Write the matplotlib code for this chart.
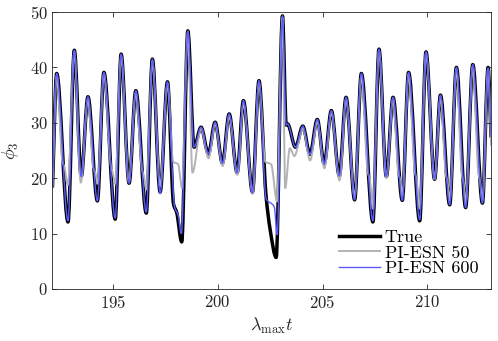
import numpy as np
import matplotlib
matplotlib.use('Agg')
import matplotlib.pyplot as plt
from matplotlib.path import Path
from matplotlib.patches import PathPatch
from matplotlib.lines import Line2D

# Valeurs (extrema et epaulements de chaque courbe)
t_true = [192.13, 192.33, 192.87, 193.17, 193.50, 193.82, 194.27, 194.58, 195.12, 195.40,
          195.78, 196.10, 196.60, 196.89, 197.26, 197.61, 197.90, 198.05, 198.29, 198.58,
          198.88, 199.21, 199.56, 199.88, 200.23, 200.55, 200.93, 201.23, 201.66, 201.97,
          202.31, 202.50, 202.79, 203.09, 203.27, 203.33, 203.71, 204.06, 204.40, 204.75,
          205.08, 205.42, 205.80, 206.12, 206.53, 206.85, 207.40, 207.69, 208.04, 208.36,
          208.80, 209.10, 209.63, 209.93, 210.34, 210.62, 211.06, 211.38, 211.82, 212.16,
          212.62, 212.89, 213.03]
phi_true = [18.5, 38.9, 12.1, 43.1, 20.3, 34.7, 15.9, 39.1, 12.6, 42.4,
            19.1, 35.8, 13.7, 41.5, 17.5, 37.4, 15.3, 13.8, 8.5, 46.6,
            25.6, 29.2, 24.4, 30.1, 22.7, 31.6, 21.0, 34.0, 17.5, 37.6,
            16.7, 10.8, 5.7, 49.3, 29.6, 29.8, 25.6, 29.4, 24.3, 30.6,
            22.6, 32.2, 20.4, 34.6, 16.1, 38.9, 12.1, 43.3, 20.3, 34.6,
            16.0, 39.1, 12.3, 42.8, 19.8, 35.0, 15.2, 40.0, 14.7, 40.5,
            15.5, 40.0, 27.5]

t_esn50 = [192.13, 192.33, 192.60, 192.70, 192.86, 193.17, 193.48, 193.82, 194.08, 194.17,
           194.28, 194.58, 194.92, 195.00, 195.12, 195.40, 195.77, 196.10, 196.40, 196.48,
           196.60, 196.89, 197.26, 197.61, 197.88, 198.12, 198.30, 198.58, 198.80, 199.21,
           199.57, 199.88, 200.24, 200.55, 200.94, 201.23, 201.67, 201.97, 202.27, 202.55,
           202.83, 203.09, 203.22, 203.44, 203.66, 204.06, 204.41, 204.75, 205.09, 205.42,
           205.81, 206.12, 206.53, 206.85, 207.15, 207.25, 207.40, 207.69, 208.04, 208.36,
           208.62, 208.70, 208.80, 209.10, 209.40, 209.48, 209.63, 209.93, 210.34, 210.62,
           210.88, 210.95, 211.06, 211.38, 211.64, 211.72, 211.82, 212.16, 212.43, 212.50,
           212.62, 212.89, 213.03]
phi_esn50 = [18.3, 38.5, 23.0, 22.0, 18.8, 42.8, 19.2, 34.3, 21.8, 21.0,
             19.0, 38.8, 22.0, 21.0, 19.0, 42.0, 19.3, 35.4, 21.5, 20.5,
             18.0, 41.0, 18.5, 37.0, 23.0, 22.5, 18.2, 46.3, 21.0, 29.0,
             23.6, 29.8, 22.2, 31.2, 20.6, 33.5, 17.2, 37.2, 23.0, 22.5,
             15.8, 49.0, 18.2, 25.4, 24.0, 29.0, 23.2, 30.2, 21.8, 31.9,
             19.6, 34.2, 16.6, 38.5, 21.2, 19.8, 14.5, 43.0, 20.0, 34.3,
             20.8, 19.8, 16.8, 38.8, 21.0, 19.8, 14.5, 42.5, 19.8, 34.7,
             20.5, 19.5, 16.0, 39.7, 20.5, 19.3, 15.5, 40.2, 20.8, 19.6,
             16.0, 39.7, 26.0]

t_esn600 = [192.13, 192.33, 192.87, 193.17, 193.50, 193.82, 194.27, 194.58, 195.12, 195.40,
            195.78, 196.10, 196.60, 196.89, 197.26, 197.61, 197.95, 198.12, 198.27, 198.58,
            198.88, 199.21, 199.56, 199.88, 200.23, 200.55, 200.93, 201.23, 201.66, 201.97,
            202.31, 202.70, 202.84, 203.09, 203.27, 203.33, 203.71, 204.06, 204.40, 204.75,
            205.08, 205.42, 205.80, 206.12, 206.53, 206.85, 207.40, 207.69, 208.04, 208.36,
            208.80, 209.10, 209.63, 209.93, 210.34, 210.62, 211.06, 211.38, 211.82, 212.16,
            212.62, 212.89, 213.03]
phi_esn600 = [18.5, 38.9, 12.3, 43.1, 20.3, 34.7, 15.9, 39.1, 12.8, 42.4,
              19.1, 35.8, 13.9, 41.5, 17.2, 37.4, 14.8, 13.3, 10.0, 46.6,
              25.6, 29.2, 24.4, 30.1, 22.7, 31.6, 21.0, 34.0, 17.3, 37.6,
              16.3, 14.8, 9.8, 49.3, 29.6, 29.8, 25.6, 29.4, 24.3, 30.6,
              22.6, 32.2, 20.4, 34.6, 16.1, 38.9, 12.3, 43.3, 20.3, 34.6,
              16.0, 39.1, 12.5, 42.8, 19.8, 35.0, 15.2, 40.0, 14.7, 40.5,
              15.5, 40.0, 27.5]

labels = ['True', 'PI-ESN 50', 'PI-ESN 600']


def smooth_path(t, y):
    # Trace lisse (Hermite monotone) dessine comme courbes de Bezier par matplotlib
    t = np.asarray(t, dtype=float)
    y = np.asarray(y, dtype=float)
    h = np.diff(t)
    d = np.diff(y) / h
    m = np.zeros_like(y)
    for i in range(1, len(y) - 1):
        if d[i - 1] * d[i] > 0:
            w1 = 2 * h[i] + h[i - 1]
            w2 = h[i] + 2 * h[i - 1]
            m[i] = (w1 + w2) / (w1 / d[i - 1] + w2 / d[i])
    m[0] = d[0]
    m[-1] = d[-1]
    verts = [(t[0], y[0])]
    codes = [Path.MOVETO]
    for i in range(len(h)):
        verts.append((t[i] + h[i] / 3, y[i] + m[i] * h[i] / 3))
        verts.append((t[i + 1] - h[i] / 3, y[i + 1] - m[i + 1] * h[i] / 3))
        verts.append((t[i + 1], y[i + 1]))
        codes += [Path.CURVE4] * 3
    return Path(verts, codes)


plt.rcParams['font.family'] = 'serif'
plt.rcParams['font.serif'] = ['cmr10']
plt.rcParams['mathtext.fontset'] = 'cm'
plt.rcParams['axes.formatter.use_mathtext'] = True

fig = plt.figure(figsize=(4.98, 3.41), dpi=100)
ax = fig.add_axes([0.1054, 0.1525, 0.8806, 0.8123])

styles = [
    dict(color='black', lw=2.5),
    dict(color='#b3b3b3', lw=1.4),
    dict(color='#5a5aff', lw=1.0),
]
series = [(t_true, phi_true), (t_esn50, phi_esn50), (t_esn600, phi_esn600)]

for (t, phi), st in zip(series, styles):
    patch = PathPatch(smooth_path(t, phi), fill=False, edgecolor=st['color'],
                      lw=st['lw'], joinstyle='round', capstyle='round')
    ax.add_patch(patch)

ax.set_xlim(t_true[0], t_true[-1])
ax.set_ylim(0, 50)
ax.set_xticks([195, 200, 205, 210])
ax.set_yticks([0, 10, 20, 30, 40, 50])
ax.tick_params(direction='in', top=True, right=True, length=3.5, width=0.6,
               labelsize=12, colors='#262626')
for s in ax.spines.values():
    s.set_color('#262626')
    s.set_linewidth(0.6)

ax.set_xlabel(r'$\lambda_{\max}t$', fontsize=13, color='#262626')
ax.set_ylabel(r'$\phi_3$', fontsize=13, color='#262626', labelpad=6)

handles = [Line2D([], [], color=st['color'], lw=st['lw']) for st in styles]
ax.legend(handles, labels, loc='lower right', frameon=False, fontsize=13,
          handlelength=2.3, handletextpad=0.25, labelspacing=0.0,
          borderaxespad=0.3)

fig.savefig('out.png', dpi=100)
